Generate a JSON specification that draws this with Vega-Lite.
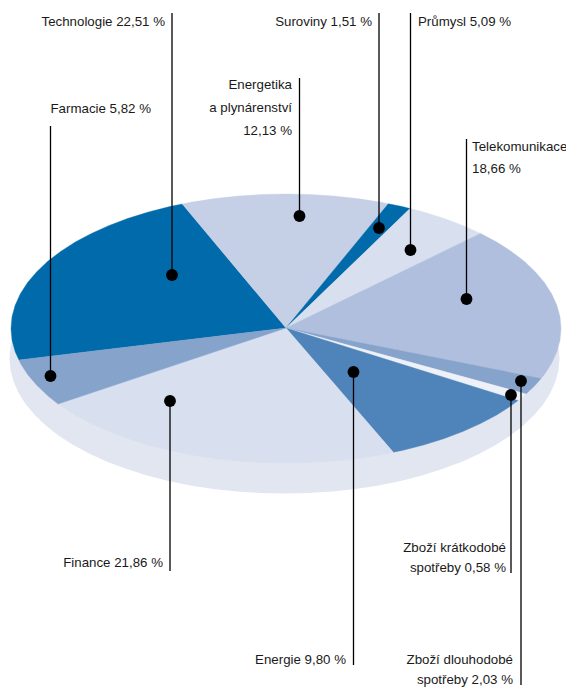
{"$schema":"https://vega.github.io/schema/vega-lite/v6.json","width":566,"height":689,"autosize":{"type":"none"},"padding":0,"background":"white","config":{"view":{"stroke":null}},
"datasets":{
"base":[{"i":1,"x":46.3,"y":291},{"i":2,"x":35.3,"y":301.4},{"i":3,"x":26.1,"y":312.3},{"i":4,"x":18.9,"y":323.6},{"i":5,"x":13.7,"y":335.1},{"i":6,"x":10.5,"y":346.7},{"i":7,"x":9.5,"y":358.5},{"i":8,"x":10.5,"y":370.3},{"i":9,"x":13.7,"y":381.9},{"i":10,"x":18.9,"y":393.4},{"i":11,"x":26.1,"y":404.7},{"i":12,"x":35.3,"y":415.6},{"i":13,"x":46.3,"y":426},{"i":14,"x":59.2,"y":435.9},{"i":15,"x":73.8,"y":445.3},{"i":16,"x":90,"y":454},{"i":17,"x":107.7,"y":461.9},{"i":18,"x":126.8,"y":469.1},{"i":19,"x":147,"y":475.4},{"i":20,"x":168.3,"y":480.9},{"i":21,"x":190.4,"y":485.4},{"i":22,"x":213.3,"y":488.9},{"i":23,"x":236.8,"y":491.4},{"i":24,"x":260.5,"y":493},{"i":25,"x":284.5,"y":493.5},{"i":26,"x":308.5,"y":493},{"i":27,"x":332.2,"y":491.4},{"i":28,"x":355.7,"y":488.9},{"i":29,"x":378.6,"y":485.4},{"i":30,"x":400.7,"y":480.9},{"i":31,"x":422,"y":475.4},{"i":32,"x":442.2,"y":469.1},{"i":33,"x":461.3,"y":461.9},{"i":34,"x":479,"y":454},{"i":35,"x":495.2,"y":445.3},{"i":36,"x":509.8,"y":435.9},{"i":37,"x":522.7,"y":426},{"i":38,"x":533.7,"y":415.6},{"i":39,"x":542.9,"y":404.7},{"i":40,"x":550.1,"y":393.4},{"i":41,"x":555.3,"y":381.9},{"i":42,"x":558.5,"y":370.3},{"i":43,"x":559.5,"y":358.5},{"i":44,"x":558.5,"y":346.7},{"i":45,"x":555.3,"y":335.1},{"i":46,"x":550.1,"y":323.6},{"i":47,"x":542.9,"y":312.3},{"i":48,"x":533.7,"y":301.4},{"i":49,"x":522.7,"y":291}],
"wedges":[
{"s":"Technologie","i":0,"x":286,"y":328},{"s":"Technologie","i":1,"x":19,"y":360},{"s":"Technologie","i":2,"x":15.2,"y":351.8},{"s":"Technologie","i":3,"x":12,"y":340.2},{"s":"Technologie","i":4,"x":11,"y":328.5},{"s":"Technologie","i":5,"x":12,"y":316.8},{"s":"Technologie","i":6,"x":15.2,"y":305.2},{"s":"Technologie","i":7,"x":20.4,"y":293.7},{"s":"Technologie","i":8,"x":27.6,"y":282.5},{"s":"Technologie","i":9,"x":36.8,"y":271.7},{"s":"Technologie","i":10,"x":47.8,"y":261.2},{"s":"Technologie","i":11,"x":60.7,"y":251.4},{"s":"Technologie","i":12,"x":75.3,"y":242},{"s":"Technologie","i":13,"x":91.5,"y":233.4},{"s":"Technologie","i":14,"x":109.2,"y":225.5},{"s":"Technologie","i":15,"x":128.3,"y":218.3},{"s":"Technologie","i":16,"x":148.5,"y":212},{"s":"Technologie","i":17,"x":169.8,"y":206.6},{"s":"Technologie","i":18,"x":182.3,"y":204},
{"s":"Energetika","i":0,"x":286,"y":328},{"s":"Energetika","i":1,"x":182.3,"y":204},{"s":"Energetika","i":2,"x":191.9,"y":202.1},{"s":"Energetika","i":3,"x":214.8,"y":198.6},{"s":"Energetika","i":4,"x":238.3,"y":196},{"s":"Energetika","i":5,"x":262,"y":194.5},{"s":"Energetika","i":6,"x":286,"y":194},{"s":"Energetika","i":7,"x":310,"y":194.5},{"s":"Energetika","i":8,"x":333.7,"y":196},{"s":"Energetika","i":9,"x":357.2,"y":198.6},{"s":"Energetika","i":10,"x":380.1,"y":202.1},{"s":"Energetika","i":11,"x":388.3,"y":203.8},
{"s":"Suroviny","i":0,"x":286,"y":328},{"s":"Suroviny","i":1,"x":388.3,"y":203.8},{"s":"Suroviny","i":2,"x":402.2,"y":206.6},{"s":"Suroviny","i":3,"x":410,"y":208.6},
{"s":"Průmysl","i":0,"x":286,"y":328},{"s":"Průmysl","i":1,"x":410,"y":208.6},{"s":"Průmysl","i":2,"x":423.5,"y":212},{"s":"Průmysl","i":3,"x":443.7,"y":218.3},{"s":"Průmysl","i":4,"x":462.8,"y":225.5},{"s":"Průmysl","i":5,"x":480.5,"y":233.4},
{"s":"Telekomunikace","i":0,"x":286,"y":328},{"s":"Telekomunikace","i":1,"x":480.5,"y":233.4},{"s":"Telekomunikace","i":2,"x":496.7,"y":242},{"s":"Telekomunikace","i":3,"x":511.3,"y":251.4},{"s":"Telekomunikace","i":4,"x":524.2,"y":261.2},{"s":"Telekomunikace","i":5,"x":535.2,"y":271.7},{"s":"Telekomunikace","i":6,"x":544.4,"y":282.5},{"s":"Telekomunikace","i":7,"x":551.6,"y":293.7},{"s":"Telekomunikace","i":8,"x":556.8,"y":305.2},{"s":"Telekomunikace","i":9,"x":560,"y":316.8},{"s":"Telekomunikace","i":10,"x":561,"y":328.5},{"s":"Telekomunikace","i":11,"x":560,"y":340.2},{"s":"Telekomunikace","i":12,"x":556.8,"y":351.8},{"s":"Telekomunikace","i":13,"x":551.6,"y":363.3},{"s":"Telekomunikace","i":14,"x":544.4,"y":374.5},{"s":"Telekomunikace","i":15,"x":541,"y":378.5},
{"s":"Zboží dlouhodobé","i":0,"x":286,"y":328},{"s":"Zboží dlouhodobé","i":1,"x":541,"y":378.5},{"s":"Zboží dlouhodobé","i":2,"x":535.2,"y":385.3},{"s":"Zboží dlouhodobé","i":3,"x":526,"y":394},
{"s":"Zboží krátkodobé","i":0,"x":286,"y":328},{"s":"Zboží krátkodobé","i":1,"x":526,"y":394},{"s":"Zboží krátkodobé","i":2,"x":524.2,"y":395.8},{"s":"Zboží krátkodobé","i":3,"x":518,"y":400.5},
{"s":"Energie","i":0,"x":286,"y":328},{"s":"Energie","i":1,"x":518,"y":400.5},{"s":"Energie","i":2,"x":511.3,"y":405.6},{"s":"Energie","i":3,"x":496.7,"y":415},{"s":"Energie","i":4,"x":480.5,"y":423.6},{"s":"Energie","i":5,"x":462.8,"y":431.5},{"s":"Energie","i":6,"x":443.7,"y":438.7},{"s":"Energie","i":7,"x":423.5,"y":445},{"s":"Energie","i":8,"x":402.2,"y":450.4},{"s":"Energie","i":9,"x":393.3,"y":452.2},
{"s":"Finance","i":0,"x":286,"y":328},{"s":"Finance","i":1,"x":393.3,"y":452.2},{"s":"Finance","i":2,"x":380.1,"y":454.9},{"s":"Finance","i":3,"x":357.2,"y":458.4},{"s":"Finance","i":4,"x":333.7,"y":461},{"s":"Finance","i":5,"x":310,"y":462.5},{"s":"Finance","i":6,"x":286,"y":463},{"s":"Finance","i":7,"x":262,"y":462.5},{"s":"Finance","i":8,"x":238.3,"y":461},{"s":"Finance","i":9,"x":214.8,"y":458.4},{"s":"Finance","i":10,"x":191.9,"y":454.9},{"s":"Finance","i":11,"x":169.8,"y":450.4},{"s":"Finance","i":12,"x":148.5,"y":445},{"s":"Finance","i":13,"x":128.3,"y":438.7},{"s":"Finance","i":14,"x":109.2,"y":431.5},{"s":"Finance","i":15,"x":91.5,"y":423.6},{"s":"Finance","i":16,"x":75.3,"y":415},{"s":"Finance","i":17,"x":60.7,"y":405.6},{"s":"Finance","i":18,"x":58,"y":404},
{"s":"Farmacie","i":0,"x":286,"y":328},{"s":"Farmacie","i":1,"x":58,"y":404},{"s":"Farmacie","i":2,"x":47.8,"y":395.8},{"s":"Farmacie","i":3,"x":36.8,"y":385.3},{"s":"Farmacie","i":4,"x":27.6,"y":374.5},{"s":"Farmacie","i":5,"x":20.4,"y":363.3},{"s":"Farmacie","i":6,"x":19,"y":360}
],
"callouts":[{"s":"Technologie","x":172,"y":275,"y2":13},{"s":"Farmacie","x":50.5,"y":376,"y2":126},{"s":"Energetika","x":299.5,"y":216,"y2":78},{"s":"Suroviny","x":379,"y":228,"y2":13},{"s":"Průmysl","x":410.5,"y":250,"y2":13},{"s":"Telekomunikace","x":466.5,"y":299,"y2":139},{"s":"Finance","x":170,"y":401,"y2":571},{"s":"Energie","x":353.5,"y":372,"y2":665},{"s":"Zboží krátkodobé","x":511,"y":395,"y2":573},{"s":"Zboží dlouhodobé","x":521,"y":381,"y2":685}],
"labelsEnd":[{"t":"Technologie 22,51 %","x":165,"y":22},{"t":"Farmacie 5,82 %","x":151,"y":109},{"t":"Energetika","x":292,"y":85},{"t":"a plynárenství","x":292,"y":108},{"t":"12,13 %","x":292,"y":131},{"t":"Suroviny 1,51 %","x":372,"y":22},{"t":"Finance 21,86 %","x":163,"y":563},{"t":"Energie 9,80 %","x":346,"y":660},{"t":"Zboží krátkodobé","x":506,"y":548},{"t":"spotřeby 0,58 %","x":506,"y":568},{"t":"Zboží dlouhodobé","x":513,"y":660},{"t":"spotřeby 2,03 %","x":513,"y":680}],
"labelsStart":[{"t":"Průmysl 5,09 %","x":418,"y":22},{"t":"Telekomunikace","x":472,"y":147},{"t":"18,66 %","x":472,"y":169}]
},
"encoding":{"x":{"field":"x","type":"quantitative","scale":{"domain":[0,566]},"axis":null},"y":{"field":"y","type":"quantitative","scale":{"domain":[689,0]},"axis":null}},
"layer":[
{"data":{"name":"base"},"mark":{"type":"line","interpolate":"linear-closed","fill":"#E2E6F1","stroke":null},"encoding":{"order":{"field":"i","type":"quantitative"}}},
{"data":{"name":"wedges"},"mark":{"type":"line","interpolate":"linear-closed","filled":true,"strokeWidth":0.4},"encoding":{"order":{"field":"i","type":"quantitative"},"detail":{"field":"s"},"fill":{"field":"s","type":"nominal","legend":null,"scale":{"domain":["Technologie","Energetika","Suroviny","Průmysl","Telekomunikace","Zboží dlouhodobé","Zboží krátkodobé","Energie","Finance","Farmacie"],"range":["#006AAB","#C5CFE6","#006AAB","#D8DFEE","#B0BFDD","#86A3CC","#EEF1F7","#4F84BA","#D8DFEE","#86A3CC"]}},"stroke":{"field":"s","type":"nominal","legend":null,"scale":{"domain":["Technologie","Energetika","Suroviny","Průmysl","Telekomunikace","Zboží dlouhodobé","Zboží krátkodobé","Energie","Finance","Farmacie"],"range":["#006AAB","#C5CFE6","#006AAB","#D8DFEE","#B0BFDD","#86A3CC","#EEF1F7","#4F84BA","#D8DFEE","#86A3CC"]}}}},
{"data":{"name":"callouts"},"mark":{"type":"rule","color":"#000000","strokeWidth":1.3},"encoding":{"y2":{"field":"y2"}}},
{"data":{"name":"callouts"},"mark":{"type":"point","filled":true,"color":"#000000","opacity":1,"size":140}},
{"data":{"name":"labelsEnd"},"mark":{"type":"text","align":"right","baseline":"middle","font":"Liberation Sans","fontSize":13.3,"color":"#1a1a1a"},"encoding":{"text":{"field":"t"}}},
{"data":{"name":"labelsStart"},"mark":{"type":"text","align":"left","baseline":"middle","font":"Liberation Sans","fontSize":13.3,"color":"#1a1a1a"},"encoding":{"text":{"field":"t"}}}
]}
